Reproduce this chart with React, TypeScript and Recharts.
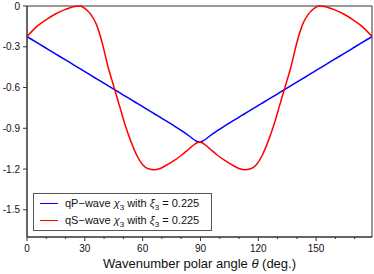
import { Label, Legend, Line, LineChart, ReferenceArea, XAxis, YAxis } from "recharts";


const FONT = "'Liberation Sans', Arial, Helvetica, sans-serif";

// wavenumber polar angle (deg.)
const THETA = [
  0, 5, 10, 15, 20, 24, 27, 30, 33, 36, 39, 42, 45, 48, 51, 54, 57, 60, 63, 66, 69, 72, 76, 80, 84, 86, 88,
  89.5,
  91, 93, 95, 99, 103, 107, 110, 113, 116, 119, 122, 125, 128, 131, 134, 137, 140, 143, 146, 149, 152, 155, 159, 164, 169, 174, 179,
];

// qP-wave chi3
const QP = [
  -0.225, -0.268, -0.311, -0.354, -0.397, -0.431, -0.457, -0.483, -0.509, -0.535, -0.56, -0.586, -0.612, -0.638,
  -0.664, -0.689, -0.715, -0.741, -0.767, -0.793, -0.818, -0.844, -0.879, -0.915, -0.955, -0.977, -0.995,
  -1.0,
  -0.995, -0.977, -0.955, -0.915, -0.879, -0.844, -0.818, -0.793, -0.767, -0.741, -0.715, -0.689, -0.664, -0.638,
  -0.612, -0.586, -0.56, -0.535, -0.509, -0.483, -0.457, -0.431, -0.397, -0.354, -0.311, -0.268, -0.225,
];

// qS-wave chi3
const QS = [
  -0.225, -0.152, -0.1, -0.057, -0.025, -0.006, 0, -0.017, -0.06, -0.135, -0.27, -0.445, -0.59, -0.735,
  -0.88, -1.0, -1.1, -1.168, -1.198, -1.206, -1.196, -1.174, -1.14, -1.1, -1.052, -1.028, -1.008,
  -1.0,
  -1.008, -1.028, -1.052, -1.1, -1.14, -1.174, -1.196, -1.206, -1.198, -1.168, -1.1, -1.0, -0.88, -0.735,
  -0.59, -0.445, -0.27, -0.135, -0.06, -0.017, 0, -0.006, -0.025, -0.057, -0.1, -0.152, -0.225,
];

const X_TICKS = [0, 10, 20, 30, 40, 50, 60, 70, 80, 90, 100, 110, 120, 130, 140, 150, 160, 170];
const X_LABELS = [0, 30, 60, 90, 120, 150];
const Y_TICKS = [0, -0.3, -0.6, -0.9, -1.2, -1.5];

const SERIES = [
  { key: "qp", wave: "qP", color: "#0000ff" },
  { key: "qs", wave: "qS", color: "#ff0000" },
];

const data = THETA.map((theta, i) => ({ theta, qp: QP[i], qs: QS[i] }));


function XTick({ x, y, payload }: any) {
  const major = X_LABELS.includes(payload.value);
  const axisY = y - 8;
  return (
    <g>
      <line x1={x} x2={x} y1={axisY} y2={axisY + (major ? 4 : 2)} stroke="#333" />
      {major && (
        <text x={x} y={axisY + 15} textAnchor="middle" fontSize={10} fontFamily={FONT} fill="#111">
          {payload.value}
        </text>
      )}
    </g>
  );
}

function XTitle({ viewBox }: any) {
  const { x, y, width, height } = viewBox;
  return (
    <text x={x + width / 2} y={y + height - 6} textAnchor="middle" fontSize={13} fontFamily={FONT} fill="#111">
      Wavenumber polar angle <tspan fontStyle="italic">θ</tspan> (deg.)
    </text>
  );
}

function LegendBox() {
  return (
    <div style={{ width: 179, height: 38, boxSizing: "border-box", border: "1.5px solid #555", background: "#fff", padding: "1px 0", fontFamily: FONT, fontSize: 11, color: "#111", lineHeight: 1 }}>
      {SERIES.map((s) => (
        <div key={s.key} style={{ display: "flex", alignItems: "center", height: 17, whiteSpace: "nowrap" }}>
          <span style={{ display: "inline-block", width: 18, borderTop: `1.5px solid ${s.color}`, marginLeft: 6, marginRight: 7 }} />
          <span>
            {s.wave}−wave <i>χ</i><span style={{ fontSize: 8, position: "relative", top: 3 }}>3</span> with{" "}
            <i>ξ</i><span style={{ fontSize: 8, position: "relative", top: 3 }}>3</span> = 0.225
          </span>
        </div>
      ))}
    </div>
  );
}


export default function App() {
  return (
    <div style={{ position: "absolute", left: 0, top: 0 }}>
      <LineChart width={374} height={274} data={data} margin={{ top: 6, right: 2, bottom: 0, left: 0 }}>
        <XAxis
          dataKey="theta"
          type="number"
          domain={[0, 179]}
          ticks={X_TICKS}
          interval={0}
          height={37}
          tickSize={4}
          tickMargin={4}
          tickLine={false}
          tick={<XTick />}
          axisLine={{ stroke: "#333" }}
        >
          <Label content={<XTitle />} />
        </XAxis>
        <YAxis
          type="number"
          domain={[-1.7, 0]}
          ticks={Y_TICKS}
          interval={0}
          width={27}
          tickSize={4}
          tickMargin={3}
          tickLine={{ stroke: "#333" }}
          axisLine={{ stroke: "#333" }}
          tick={{ fontSize: 10, fontFamily: FONT, fill: "#111" }}
          tickFormatter={(v: number) => String(v)}
        />
        <ReferenceArea x1={0} x2={179} y1={-1.7} y2={0} fill="none" stroke="#333" strokeWidth={1} />
        {SERIES.map((s) => (
          <Line key={s.key} dataKey={s.key} type="monotone" stroke={s.color} strokeWidth={1.5} dot={false} isAnimationActive={false} />
        ))}
        <Legend layout="vertical" align="center" verticalAlign="middle" content={<LegendBox />} wrapperStyle={{ left: 33, top: 193, width: "auto", height: "auto" }} />
      </LineChart>
    </div>
  );
}
